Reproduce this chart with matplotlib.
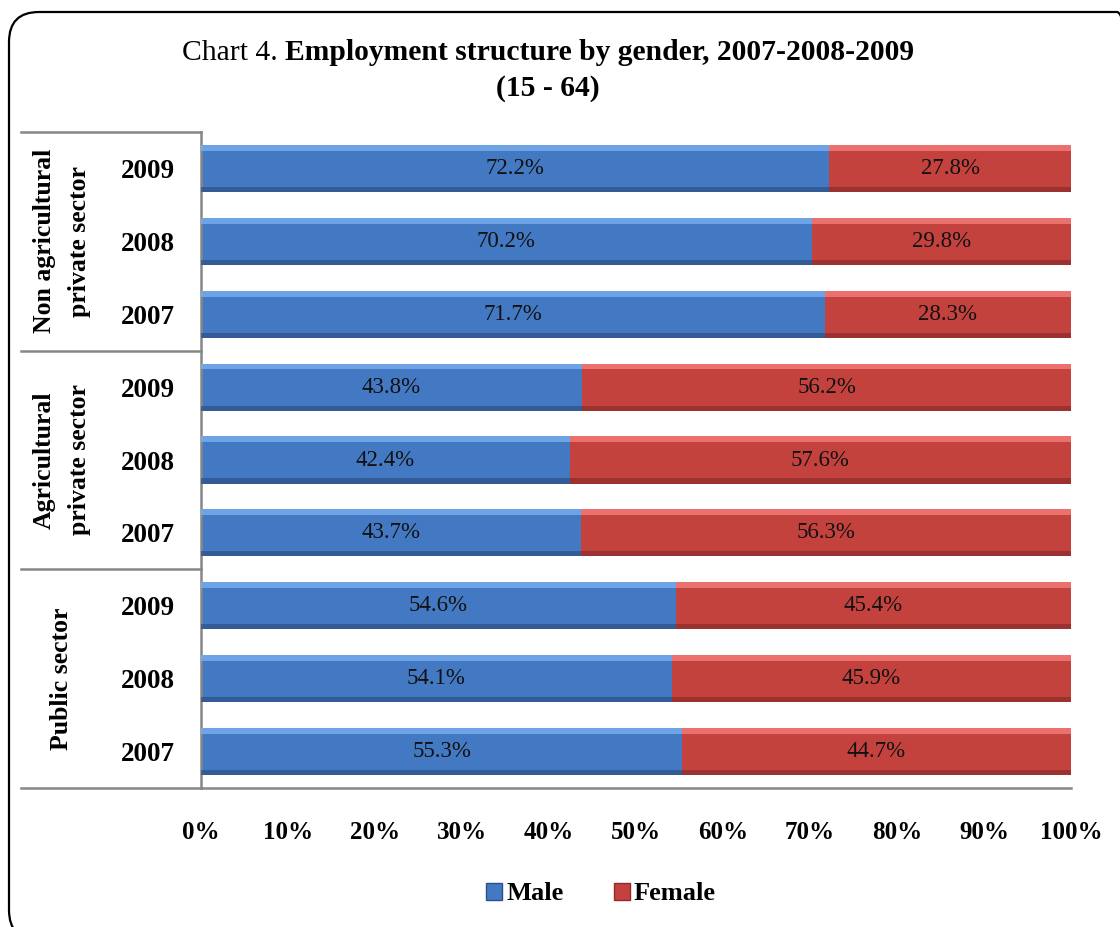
import matplotlib.pyplot as plt
from matplotlib.patches import FancyBboxPatch, Patch

plt.rcParams["font.family"] = ["Liberation Serif", "DejaVu Serif"]

# Rows from top to bottom
years = ["2009", "2008", "2007"] * 3
groups = ["Non agricultural\nprivate sector", "Agricultural\nprivate sector", "Public sector"]
male = [72.2, 70.2, 71.7, 43.8, 42.4, 43.7, 54.6, 54.1, 55.3]
female = [27.8, 29.8, 28.3, 56.2, 57.6, 56.3, 45.4, 45.9, 44.7]
ticks = [0, 10, 20, 30, 40, 50, 60, 70, 80, 90, 100]

W, H = 1120, 927
fig = plt.figure(figsize=(W / 100, H / 100), dpi=100)

# rounded outer frame, in pixel units (y measured upwards)
bg = fig.add_axes([0, 0, 1, 1])
bg.set_xlim(0, W)
bg.set_ylim(0, H)
bg.axis("off")
bg.add_patch(FancyBboxPatch((9, H - 940), 1138, 928, boxstyle="round,pad=0,rounding_size=30",
                            fc="none", ec="black", lw=1.6, clip_on=False))

ax = fig.add_axes([201 / W, 1 - 788 / H, 870 / W, 656 / H])
pos = list(range(len(male)))
h = 0.645

blue = dict(main="#4379c2", top="#7ab0ee", bot="#2d5185")
red = dict(main="#c4423e", top="#f47d7a", bot="#8c2c2a")

def bevel_bars(values, left, c):
    ax.barh(pos, values, left=left, height=h, color=c["main"], zorder=2)
    # light strip along the top, dark strip along the bottom
    top_y = [p - h / 2 + 0.04 for p in pos]
    bot_y = [p + h / 2 - 0.035 for p in pos]
    ax.barh(top_y, values, left=left, height=0.08, color=c["top"], alpha=0.8, zorder=3)
    ax.barh(bot_y, values, left=left, height=0.07, color=c["bot"], alpha=0.7, zorder=3)

bevel_bars(male, [0] * len(male), blue)
bevel_bars(female, male, red)

for p, m, f in zip(pos, male, female):
    ax.text(m / 2, p, f"{m:.1f}%", ha="center", va="center", fontsize=16.5, color="#111111", zorder=4)
    ax.text(m + f / 2, p, f"{f:.1f}%", ha="center", va="center", fontsize=16.5, color="#111111", zorder=4)

ax.set_xlim(0, 100)
ax.set_ylim(8.5, -0.5)
ax.set_xticks(ticks)
ax.set_xticklabels([f"{t}%" for t in ticks], fontsize=18, fontweight="bold")
ax.set_yticks(pos)
ax.set_yticklabels(years, fontsize=19.5, fontweight="bold")
ax.tick_params(axis="x", length=0, pad=24)
ax.tick_params(axis="y", length=0, pad=19)

for s in ["top", "right"]:
    ax.spines[s].set_visible(False)
for s in ["left", "bottom"]:
    ax.spines[s].set_color("#878787")
    ax.spines[s].set_linewidth(1.8)

# group separators and group names to the left of the axis
yt = ax.get_yaxis_transform()
for y in [-0.5, 2.5, 5.5, 8.5]:
    ax.plot([-180 / 870, 0], [y, y], transform=yt, color="#878787", lw=1.8, clip_on=False)
for g, yc in zip(groups, [1, 4, 7]):
    ax.text(-139 / 870, yc, g, transform=yt, rotation=90, ha="center", va="center",
            fontsize=18.5, fontweight="bold", linespacing=1.65)

# title: plain prefix followed by bold text
fig.canvas.draw()
r = fig.canvas.get_renderer()
t1 = fig.text(0, 0, "Chart 4. ", fontsize=21.3)
t2 = fig.text(0, 0, "Employment structure by gender, 2007-2008-2009", fontsize=21.3, fontweight="bold")
w1 = t1.get_window_extent(r).width
w2 = t2.get_window_extent(r).width
x0 = 548 - (w1 + w2) / 2
t1.set_position((x0 / W, 1 - 53 / H))
t2.set_position(((x0 + w1) / W, 1 - 53 / H))
t1.set_va("center")
t2.set_va("center")
fig.text(548 / W, 1 - 88 / H, "(15 - 64)", fontsize=21.3, fontweight="bold", ha="center", va="center")

handles = [Patch(facecolor=blue["main"], edgecolor=blue["bot"]),
           Patch(facecolor=red["main"], edgecolor=red["bot"])]
fig.legend(handles, ["Male", "Female"], loc="center", bbox_to_anchor=(601 / W, 1 - 894 / H),
           ncol=2, frameon=False, prop={"size": 19, "weight": "bold"},
           handlelength=0.6, handleheight=0.6, handletextpad=0.15, columnspacing=1.92)

fig.savefig("out.png", dpi=100)
